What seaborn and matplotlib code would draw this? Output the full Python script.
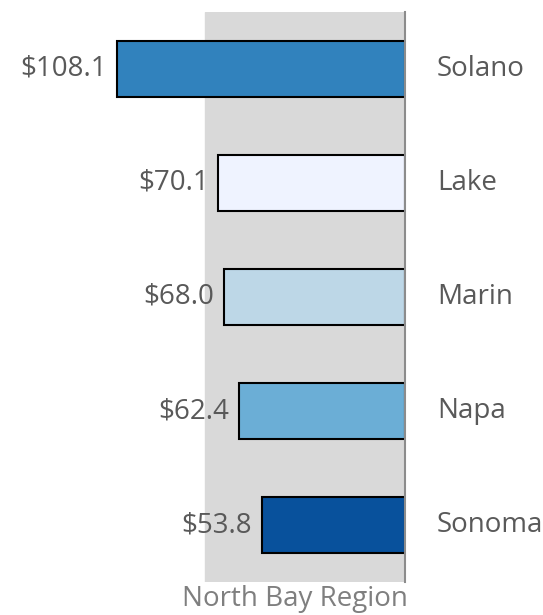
import pandas as pd
import matplotlib.pyplot as plt
import seaborn as sns

counties = ['Solano', 'Lake', 'Marin', 'Napa', 'Sonoma']
values = [108.1, 70.1, 68.0, 62.4, 53.8]
bar_colors = ['#3182bd', '#eff3ff', '#bdd7e7', '#6baed6', '#08519c']
region_label = 'North Bay Region'
region_span = 75.0

sns.set_style('white')
plt.rcParams['font.family'] = ['Open Sans', 'DejaVu Sans']

df = pd.DataFrame({'county': counties, 'value': values})
text_color = '#595959'

fig = plt.figure(figsize=(5.43, 6.15), dpi=100)
ax = fig.add_axes([110 / 543, 33 / 615, 295 / 543, 570 / 615])

ax.axvspan(0, region_span, color='#d9d9d9', zorder=0)
sns.barplot(data=df, y='county', x='value', hue='county', palette=bar_colors,
            order=counties, hue_order=counties, legend=False, width=0.49,
            edgecolor='black', linewidth=1.5, saturation=1, ax=ax, zorder=2)

ax.set_xlim(295 / 2.664, 0)
ax.set_ylim(len(counties) - 0.5, -0.5)

for i, (c, v) in enumerate(zip(counties, values)):
    ax.annotate(f'${v:.1f}', xy=(v, i), xytext=(-7, 0), textcoords='offset points',
                ha='right', va='center', fontsize=20, color=text_color,
                annotation_clip=False)
    ax.text(-12, i, c, ha='left', va='center',
            fontsize=20, color=text_color, clip_on=False)

ax.text(41.3, -0.03, region_label, transform=ax.get_xaxis_transform(),
        ha='center', va='center', fontsize=20, color='#7f7f7f')

for s in ['top', 'bottom', 'left']:
    ax.spines[s].set_visible(False)
ax.spines['right'].set_color('#8c8c8c')
ax.spines['right'].set_linewidth(1.5)
ax.set_xticks([])
ax.set_yticks([])
ax.set_xlabel('')
ax.set_ylabel('')

plt.savefig('out.png', dpi=100)
plt.close()
